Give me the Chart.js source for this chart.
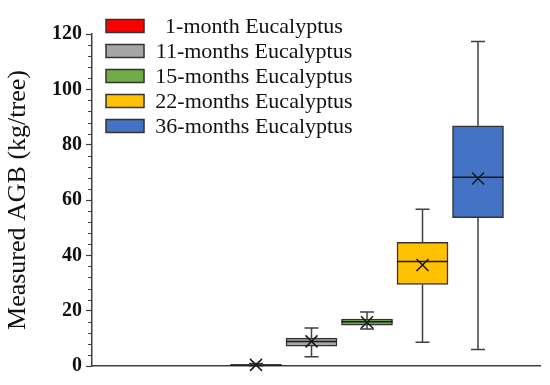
<!DOCTYPE html>
<html>
<head>
<meta charset="utf-8">
<script src="https://cdn.jsdelivr.net/npm/chart.js@4"></script>
<style>
  html, body { margin: 0; padding: 0; background: #fff; }
  #wrap { width: 550px; height: 385px; position: relative; }
</style>
</head>
<body>
<div id="wrap"><canvas id="boxChart"></canvas></div>
<script>
// groups and colours
const groups = ['1-month Eucalyptus', '11-months Eucalyptus', '15-months Eucalyptus', '22-months Eucalyptus', '36-months Eucalyptus'];
const colors = ['#FF0000', '#A6A6A6', '#70AD47', '#FFC000', '#4472C4'];
const xPos = [1, 2, 3, 4, 5];

// box plot statistics (kg/tree)
const mins    = [0.1, 3.3, 13.4, 8.6, 6.0];
const q1s     = [0.2, 7.2, 14.8, 29.5, 53.6];
const medians = [0.35, 8.9, 16.0, 37.8, 68.2];
const q3s     = [0.5, 10.1, 17.0, 44.7, 86.8];
const maxs    = [0.9, 13.7, 19.5, 56.7, 117.3];
const means   = [0.4, 8.9, 15.8, 36.5, 67.8];

const yMin = 0, yMax = 120, yStep = 20, yMinorStep = 4;

const SERIF = "'Liberation Serif', 'Times New Roman', serif";
const AXIS = '#404040';

// whiskers, median, mean marker, minor ticks and legend
const boxExtras = {
    id: 'boxExtras',
    afterDatasetsDraw(chart) {
        const ctx = chart.ctx;
        const y = chart.scales.y;
        ctx.save();
        chart.data.datasets.forEach((ds, i) => {
            const bar = chart.getDatasetMeta(i).data[0];
            const cx = bar.x;
            const half = bar.width / 2;
            const yq1 = y.getPixelForValue(q1s[i]);
            const yq3 = y.getPixelForValue(q3s[i]);
            const ymn = y.getPixelForValue(mins[i]);
            const ymx = y.getPixelForValue(maxs[i]);
            // whiskers
            ctx.strokeStyle = AXIS;
            ctx.lineWidth = 1.5;
            ctx.beginPath();
            ctx.moveTo(cx, yq3); ctx.lineTo(cx, ymx);
            ctx.moveTo(cx, yq1); ctx.lineTo(cx, ymn);
            ctx.moveTo(cx - 7, ymx); ctx.lineTo(cx + 7, ymx);
            ctx.moveTo(cx - 7, ymn); ctx.lineTo(cx + 7, ymn);
            ctx.stroke();
            // median
            const ymed = y.getPixelForValue(medians[i]);
            ctx.strokeStyle = '#1a1a1a';
            ctx.beginPath();
            ctx.moveTo(cx - half, ymed); ctx.lineTo(cx + half, ymed);
            ctx.stroke();
            // mean (x marker)
            const ym = y.getPixelForValue(means[i]);
            ctx.beginPath();
            ctx.moveTo(cx - 6, ym - 6); ctx.lineTo(cx + 6, ym + 6);
            ctx.moveTo(cx - 6, ym + 6); ctx.lineTo(cx + 6, ym - 6);
            ctx.stroke();
        });

        // minor ticks on y axis
        ctx.strokeStyle = AXIS;
        ctx.lineWidth = 1.2;
        ctx.beginPath();
        for (let v = yMin; v <= yMax; v += yMinorStep) {
            if (v % yStep === 0) continue;
            const py = Math.round(y.getPixelForValue(v)) + 0.5;
            ctx.moveTo(y.right - 4, py); ctx.lineTo(y.right, py);
        }
        ctx.stroke();

        // legend in the top-left corner of the plot
        const rowY = [26, 51, 76, 101, 126];
        ctx.font = '22px ' + SERIF;
        ctx.textAlign = 'center';
        ctx.textBaseline = 'middle';
        chart.data.datasets.forEach((ds, i) => {
            ctx.fillStyle = ds.backgroundColor;
            ctx.fillRect(106, rowY[i] - 6.5, 38, 13);
            ctx.strokeStyle = '#333';
            ctx.lineWidth = 1.5;
            ctx.strokeRect(106, rowY[i] - 6.5, 38, 13);
            ctx.fillStyle = '#111';
            ctx.fillText(ds.label, 254, rowY[i] + 1);
        });
        ctx.restore();
    }
};

function createChart() {
    const canvas = document.getElementById('boxChart');
    new Chart(canvas, {
        type: 'bar',
        data: {
            datasets: groups.map((g, i) => ({
                label: g,
                data: [{ x: xPos[i], y: [q1s[i], q3s[i]] }],
                backgroundColor: colors[i],
                borderColor: '#333',
                borderWidth: 1.5,
                borderSkipped: false,
                barThickness: 51,
                grouped: false
            }))
        },
        options: {
            responsive: true,
            maintainAspectRatio: false,
            animation: false,
            layout: { padding: { top: 34, right: 10, bottom: 19, left: 0 } },
            scales: {
                x: {
                    type: 'linear',
                    offset: false,
                    min: -1.955,
                    max: 6.117,
                    ticks: { display: false },
                    grid: { display: false },
                    border: { display: true, color: AXIS, width: 1.5 },
                    afterFit: s => { s.height = 0; }
                },
                y: {
                    min: yMin,
                    max: yMax,
                    ticks: {
                        stepSize: yStep,
                        color: '#111',
                        padding: 4,
                        font: { family: SERIF, size: 20, weight: 'bold' }
                    },
                    grid: {
                        drawOnChartArea: false,
                        drawTicks: true,
                        tickLength: 6,
                        tickWidth: 1.2,
                        tickColor: AXIS
                    },
                    border: { display: true, color: AXIS, width: 1.5 },
                    title: {
                        display: true,
                        text: 'Measured AGB (kg/tree)',
                        color: '#111',
                        font: { family: SERIF, size: 26 },
                        padding: { top: 3, bottom: 0 }
                    },
                    afterFit: s => { s.width = 92; }
                }
            },
            plugins: {
                legend: { display: false },
                tooltip: { enabled: false }
            }
        },
        plugins: [boxExtras]
    });
}

createChart();
</script>
</body>
</html>
